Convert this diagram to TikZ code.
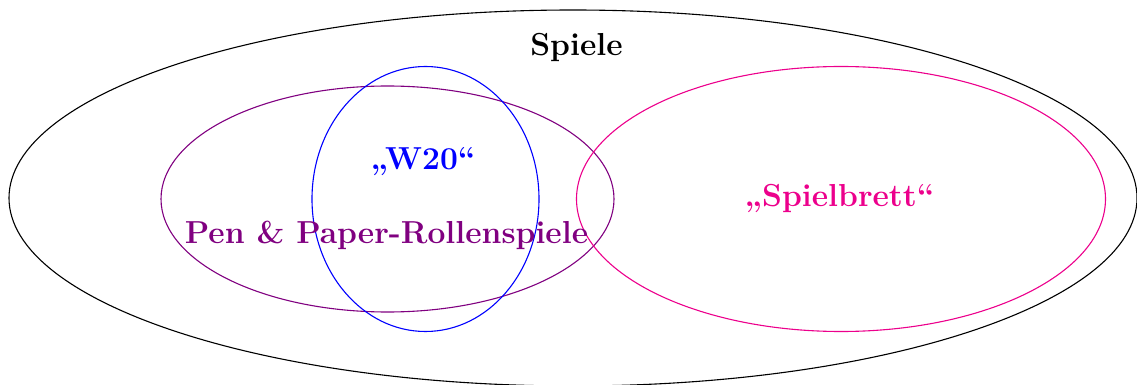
\documentclass[tikz,border=0pt]{standalone}
\usepackage{fontspec}
\definecolor{cpurple}{RGB}{128,0,128}
\definecolor{cmagenta}{RGB}{236,0,140}
\definecolor{cblue}{RGB}{0,0,255}
\tikzset{
  lbl/.style={anchor=base, inner sep=0pt, font=\fontsize{15.9}{18}\selectfont\bfseries},
  setline/.style={line width=0.55pt}
}
\begin{document}
\begin{tikzpicture}[x=0.5pt,y=-0.5pt]
\useasboundingbox (0,0) rectangle (1137,385);
\draw[setline, black] (573,198) ellipse [x radius=564, y radius=188];
\draw[setline, cpurple] (387.5,199) ellipse [x radius=226.5, y radius=113];
\draw[setline, cblue] (425.5,199) ellipse [x radius=113.5, y radius=132.5];
\draw[setline, cmagenta] (841,199) ellipse [x radius=264.5, y radius=132.5];
\node[lbl, text=black] (spiele) at (576.5,56) {Spiele};
\node[lbl, text=cblue] (w20) at (423,170) {„W20“};
\node[lbl, text=cpurple] (pnp) at (386.5,244) {Pen \& Paper-Rollenspiele};
\node[lbl, text=cmagenta] (brett) at (839.5,206.5) {„Spielbrett“};
\end{tikzpicture}
\end{document}
